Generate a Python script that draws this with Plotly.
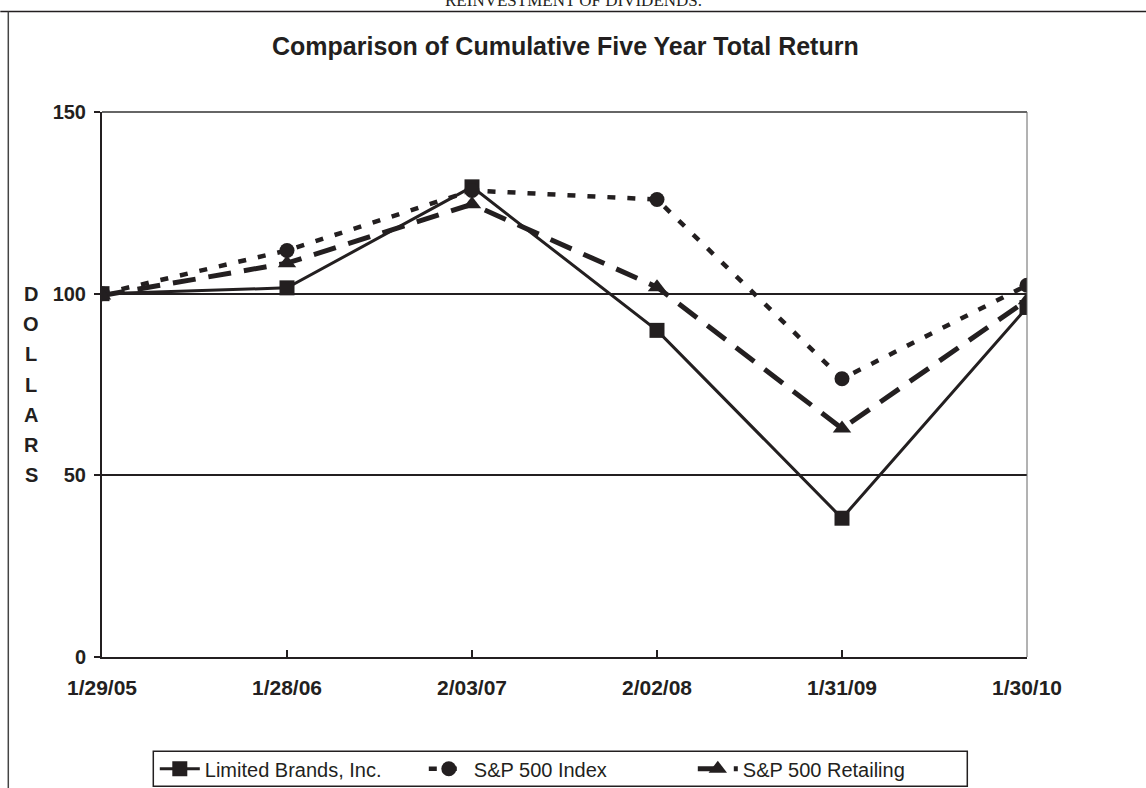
import plotly.graph_objects as go

dates = ["1/29/05", "1/28/06", "2/03/07", "2/02/08", "1/31/09", "1/30/10"]
limited = [100, 101.6, 129.4, 89.9, 38.2, 96.2]
sp500 = [100, 111.9, 128.4, 125.9, 76.6, 102.3]
retail = [99.5, 108.4, 124.6, 101.8, 62.9, 98.2]
y_ticks = [0, 50, 100, 150]
axis_letters = ["D", "O", "L", "L", "A", "R", "S"]

INK = "#231f20"
FONT = "Liberation Sans, Arial, sans-serif"
W, H = 1146, 788
L, R, T, B = 101.7, 1026.7, 111.6, 656.7


def px(x):
    return (x - L) / (R - L)


def py(y):
    return (B - y) / (B - T)


fig = go.Figure()
fig.add_trace(go.Scatter(
    x=dates, y=limited, name="Limited Brands, Inc.", mode="lines+markers",
    line=dict(color=INK, width=3),
    marker=dict(symbol="square", size=15, color=INK),
))
fig.add_trace(go.Scatter(
    x=dates, y=sp500, name="S&P 500 Index", mode="lines+markers",
    line=dict(color=INK, width=4.5, dash="8px,12px"),
    marker=dict(symbol="circle", size=15, color=INK),
))
fig.add_trace(go.Scatter(
    x=dates, y=retail, name="S&P 500 Retailing", mode="lines+markers",
    line=dict(color=INK, width=5, dash="23px,13px"),
    marker=dict(symbol="triangle-up", size=16, color=INK),
))

shapes = [
    dict(type="line", xref="paper", yref="paper", x0=px(0), x1=px(W), y0=py(11), y1=py(11),
         line=dict(color=INK, width=1.5)),
    dict(type="line", xref="paper", yref="paper", x0=px(8), x1=px(8), y0=py(11), y1=py(H),
         line=dict(color="#444444", width=1.5)),
    dict(type="line", xref="paper", yref="paper", x0=0, x1=1, y0=1, y1=1,
         line=dict(color="#666666", width=2)),
    dict(type="line", xref="paper", yref="paper", x0=1, x1=1, y0=0, y1=1,
         line=dict(color="#666666", width=1)),
    # legend frame
    dict(type="rect", xref="paper", yref="paper", x0=px(153), x1=px(967), y0=py(751), y1=py(786),
         line=dict(color=INK, width=1.5), fillcolor="rgba(0,0,0,0)"),
]

annotations = [
    dict(text="REINVESTMENT OF DIVIDENDS.", xref="paper", yref="paper",
         x=px(573), y=py(12), xanchor="center", yanchor="bottom", showarrow=False,
         font=dict(family="Liberation Serif", size=17, color=INK)),
    dict(text="<b>Comparison of Cumulative Five Year Total Return</b>", xref="paper", yref="paper",
         x=px(565), y=py(46), xanchor="center", yanchor="middle", showarrow=False,
         font=dict(family=FONT, size=25, color=INK)),
]
for i, ch in enumerate(axis_letters):
    annotations.append(dict(
        text="<b>%s</b>" % ch, xref="paper", yref="y",
        x=px(31), y=100 - i * 50 / 6, xanchor="center", yanchor="middle",
        showarrow=False, font=dict(family=FONT, size=20, color=INK)))

fig.update_layout(
    width=W, height=H,
    margin=dict(l=L, r=W - R, t=T, b=H - B, pad=0, autoexpand=False),
    paper_bgcolor="white", plot_bgcolor="white",
    showlegend=True,
    legend=dict(
        orientation="h", x=px(558), y=py(768.5), xanchor="center", yanchor="middle",
        borderwidth=0, bgcolor="rgba(0,0,0,0)",
        font=dict(family=FONT, size=20, color=INK),
        itemwidth=40, entrywidth=214, entrywidthmode="pixels",
    ),
    xaxis=dict(
        type="category", range=[0, 5], showgrid=False,
        showline=True, linecolor=INK, linewidth=2,
        ticks="inside", ticklen=7, tickcolor=INK, tickwidth=1.5,
        tickfont=dict(family=FONT, size=21, color=INK, weight="bold"),
        ticklabelstandoff=11,
    ),
    yaxis=dict(
        range=[0, 150], tickvals=y_ticks,
        showgrid=True, gridcolor=INK, gridwidth=2,
        showline=True, linecolor=INK, linewidth=2,
        ticks="outside", ticklen=6, tickcolor=INK, tickwidth=1.5,
        tickfont=dict(family=FONT, size=20, color=INK, weight="bold"),
        ticklabelstandoff=4,
        zeroline=False,
    ),
    shapes=shapes,
    annotations=annotations,
)

fig.write_html("out.html", config={"displayModeBar": False},
               post_script="document.body.style.margin='0px';")
